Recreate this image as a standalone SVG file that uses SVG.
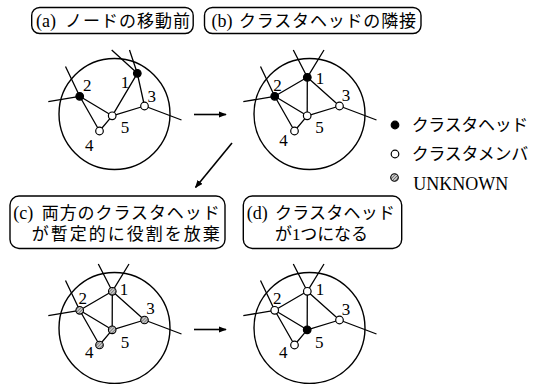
<svg xmlns="http://www.w3.org/2000/svg" width="551" height="384" viewBox="0 0 551 384">
<defs>
<style>
.t{font-family:'Liberation Serif','Noto Sans CJK JP',serif;font-size:18px;fill:#000}
.j{font-family:'Liberation Serif','Noto Sans CJK JP',serif;font-size:17px}
.num{font-family:'Liberation Serif','Times New Roman',serif;font-size:17px;fill:#000;text-anchor:middle}
.e{stroke:#000;stroke-width:1.3;fill:none}
.ring{stroke:#000;stroke-width:1.4;fill:none}
.box{stroke:#000;stroke-width:1.4;fill:#fff}
.hd{fill:#000;stroke:#000;stroke-width:1.2}
.mb{fill:#fff;stroke:#000;stroke-width:1.2}
.uk{fill:url(#hatch);stroke:#000;stroke-width:1.1}
.arr{stroke:#000;stroke-width:1.6;fill:none;marker-end:url(#ah)}
</style>
<pattern id="hatch" patternUnits="userSpaceOnUse" width="2.2" height="2.2" patternTransform="rotate(45)">
<rect width="2.2" height="2.2" fill="#c8c8c8"/>
<line x1="0" y1="0" x2="0" y2="2.2" stroke="#444" stroke-width="1"/>
</pattern>
<marker id="ah" viewBox="0 0 10 8" refX="9" refY="4" markerWidth="8" markerHeight="6.4" markerUnits="userSpaceOnUse" orient="auto">
<path d="M0,0 L10,4 L0,8 Z" fill="#000"/>
</marker>
</defs>
<rect width="551" height="384" fill="#fff"/>

<!-- label boxes -->
<g id="label-a"><rect class="box" x="31.7" y="7.5" width="161.5" height="26" rx="8"/><text class="t" x="36" y="27">(a)<tspan class="j" x="65" textLength="125" lengthAdjust="spacing">ノードの移動前</tspan></text></g>
<g id="label-b"><rect class="box" x="204.5" y="7.5" width="216.5" height="26" rx="8"/><text class="t" x="211.5" y="27">(b)<tspan class="j" x="239" textLength="177" lengthAdjust="spacing">クラスタヘッドの隣接</tspan></text></g>
<g id="label-c"><rect class="box" x="10" y="196" width="215" height="52.5" rx="9"/><text class="t" x="13.3" y="219">(c)<tspan class="j" x="41.7" textLength="178" lengthAdjust="spacing">両方のクラスタヘッド</tspan><tspan class="j" x="31.7" y="239.5" textLength="188" lengthAdjust="spacing">が暫定的に役割を放棄</tspan></text></g>
<g id="label-d"><rect class="box" x="243.3" y="196" width="158.4" height="52.5" rx="9"/><text class="t" x="246.7" y="219">(d)<tspan class="j" x="275" textLength="120" lengthAdjust="spacing">クラスタヘッド</tspan><tspan class="j" x="275" y="239.5" textLength="93" lengthAdjust="spacing">が1つになる</tspan></text></g>

<!-- legend -->
<g id="legend">
<circle class="hd" cx="395" cy="125" r="3.8"/>
<text class="j" x="411.7" y="131" textLength="116.6" lengthAdjust="spacing">クラスタヘッド</text>
<circle class="mb" cx="395" cy="154" r="3.8"/>
<text class="j" x="411.7" y="160" textLength="116.6" lengthAdjust="spacing">クラスタメンバ</text>
<circle class="uk" cx="394.5" cy="177.5" r="3.8"/>
<text class="t" x="413.3" y="190" textLength="95" lengthAdjust="spacing">UNKNOWN</text>
</g>

<!-- connectors between panels -->
<g id="connectors">
<line class="arr" x1="194" y1="114.5" x2="226" y2="114.5"/>
<line class="arr" x1="232" y1="143" x2="195.5" y2="187.5"/>
<line class="arr" x1="194" y1="329.5" x2="226" y2="329.5"/>
</g>

<!-- panel a -->
<g id="panel-a">
<circle class="ring" cx="114.5" cy="114" r="55.5"/>
<g id="panel-a-edges" class="e">
<path d="M137.3,73.3 L111.7,50 M137.3,73.3 L129.5,50 M137.3,73.3 L112.2,115.8 M137.3,73.3 L144.5,106 M79.7,96.3 L65.5,66.5 M79.7,96.3 L48.3,101.7 M79.7,96.3 L112.2,115.8 M79.7,96.3 L99.5,131 M99.5,131 L112.2,115.8 M112.2,115.8 L144.5,106 M144.5,106 L181.5,120"/>
</g>
<g id="a-n1"><circle class="hd" cx="137.3" cy="73.3" r="3.8"/><text class="num" x="125" y="88">1</text></g>
<g id="a-n2"><circle class="hd" cx="79.7" cy="96.3" r="3.8"/><text class="num" x="87.3" y="91">2</text></g>
<g id="a-n3"><circle class="mb" cx="144.5" cy="106" r="3.8"/><text class="num" x="151.7" y="101.5">3</text></g>
<g id="a-n4"><circle class="mb" cx="99.5" cy="131" r="3.8"/><text class="num" x="89.3" y="151">4</text></g>
<g id="a-n5"><circle class="mb" cx="112.2" cy="115.8" r="3.8"/><text class="num" x="125" y="133">5</text></g>
</g>

<!-- panel b -->
<g id="panel-b" transform="translate(195,0)">
<circle class="ring" cx="114.5" cy="114" r="55.5"/>
<g id="panel-b-edges" class="e">
<path d="M112.3,77.3 L98.3,50 M112.3,77.3 L129,50 M112.3,77.3 L79.7,96.3 M112.3,77.3 L112.2,115.8 M112.3,77.3 L144.5,106 M79.7,96.3 L65.5,66.5 M79.7,96.3 L48.3,101.7 M79.7,96.3 L112.2,115.8 M79.7,96.3 L99.5,131 M99.5,131 L112.2,115.8 M112.2,115.8 L144.5,106 M144.5,106 L181.5,120"/>
</g>
<g id="b-n1"><circle class="hd" cx="112.3" cy="77.3" r="3.8"/><text class="num" x="125" y="84">1</text></g>
<g id="b-n2"><circle class="hd" cx="79.7" cy="96.3" r="3.8"/><text class="num" x="82.5" y="90.5">2</text></g>
<g id="b-n3"><circle class="mb" cx="144.5" cy="106" r="3.8"/><text class="num" x="151" y="100.5">3</text></g>
<g id="b-n4"><circle class="mb" cx="99.5" cy="131" r="3.8"/><text class="num" x="88.5" y="145.5">4</text></g>
<g id="b-n5"><circle class="mb" cx="112.2" cy="115.8" r="3.8"/><text class="num" x="124.5" y="133">5</text></g>
</g>

<!-- panel c -->
<g id="panel-c" transform="translate(0,214)">
<circle class="ring" cx="114.5" cy="114" r="55.5"/>
<g id="panel-c-edges" class="e">
<path d="M112.3,77.3 L98.3,50 M112.3,77.3 L129,50 M112.3,77.3 L79.7,96.3 M112.3,77.3 L112.2,115.8 M112.3,77.3 L144.5,106 M79.7,96.3 L65.5,66.5 M79.7,96.3 L48.3,101.7 M79.7,96.3 L112.2,115.8 M79.7,96.3 L99.5,131 M99.5,131 L112.2,115.8 M112.2,115.8 L144.5,106 M144.5,106 L181.5,120"/>
</g>
<g id="c-n1"><circle class="uk" cx="112.3" cy="77.3" r="3.8"/><text class="num" x="124" y="81">1</text></g>
<g id="c-n2"><circle class="uk" cx="79.7" cy="96.3" r="3.8"/><text class="num" x="82.7" y="90">2</text></g>
<g id="c-n3"><circle class="uk" cx="144.5" cy="106" r="3.8"/><text class="num" x="150.5" y="100">3</text></g>
<g id="c-n4"><circle class="uk" cx="99.5" cy="131" r="3.8"/><text class="num" x="89.3" y="144.3">4</text></g>
<g id="c-n5"><circle class="uk" cx="112.2" cy="115.8" r="3.8"/><text class="num" x="125" y="133.5">5</text></g>
</g>

<!-- panel d -->
<g id="panel-d" transform="translate(195,214)">
<circle class="ring" cx="114.5" cy="114" r="55.5"/>
<g id="panel-d-edges" class="e">
<path d="M112.3,77.3 L98.3,50 M112.3,77.3 L129,50 M112.3,77.3 L79.7,96.3 M112.3,77.3 L112.2,115.8 M112.3,77.3 L144.5,106 M79.7,96.3 L65.5,66.5 M79.7,96.3 L48.3,101.7 M79.7,96.3 L112.2,115.8 M79.7,96.3 L99.5,131 M99.5,131 L112.2,115.8 M112.2,115.8 L144.5,106 M144.5,106 L181.5,120"/>
</g>
<g id="d-n1"><circle class="mb" cx="112.3" cy="77.3" r="3.8"/><text class="num" x="125" y="81">1</text></g>
<g id="d-n2"><circle class="mb" cx="79.7" cy="96.3" r="3.8"/><text class="num" x="82.3" y="90">2</text></g>
<g id="d-n3"><circle class="mb" cx="144.5" cy="106" r="3.8"/><text class="num" x="151" y="101">3</text></g>
<g id="d-n4"><circle class="mb" cx="99.5" cy="131" r="3.8"/><text class="num" x="88.3" y="144">4</text></g>
<g id="d-n5"><circle class="hd" cx="112.2" cy="115.8" r="3.8"/><text class="num" x="124.3" y="134">5</text></g>
</g>
</svg>
